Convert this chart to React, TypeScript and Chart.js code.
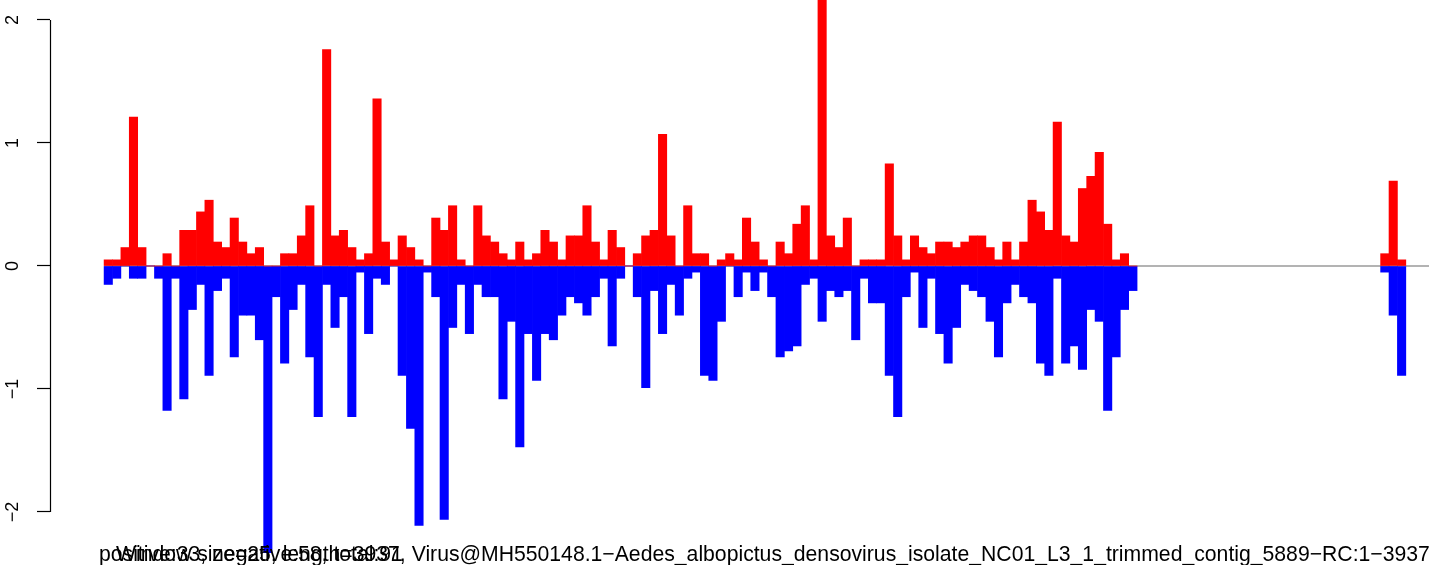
import React, { useEffect, useRef } from "react";
import { Chart, registerables } from "chart.js";

Chart.register(...registerables);

// ---- data ----
const WINDOW_SIZE = 25; // bp per window
const X_MIN_BP = -161;
const X_MAX_BP = 3944;
const Y_MIN = -2.431;
const Y_MAX = 2.1626;
const Y_TICKS = [-2, -1, 0, 1, 2];

// windows 0..122 (first covered block)
const POS_MAIN = [
  0.05, 0.05, 0.15, 1.21, 0.15, 0, 0, 0.1, 0, 0.29,
  0.29, 0.44, 0.535, 0.195, 0.15, 0.39, 0.195, 0.1, 0.15, 0,
  0, 0.1, 0.1, 0.245, 0.49, 0, 1.76, 0.245, 0.29, 0.15,
  0.05, 0.1, 1.36, 0.195, 0.05, 0.245, 0.15, 0.05, 0, 0.39,
  0.29, 0.49, 0.05, 0, 0.49, 0.245, 0.195, 0.1, 0.05, 0.195,
  0.05, 0.1, 0.29, 0.195, 0.05, 0.245, 0.245, 0.49, 0.195, 0.05,
  0.29, 0.15, 0, 0.1, 0.245, 0.29, 1.07, 0.245, 0, 0.49,
  0.1, 0.1, 0, 0.05, 0.1, 0.05, 0.39, 0.195, 0.05, 0,
  0.195, 0.1, 0.34, 0.49, 0.05, 2.3, 0.245, 0.15, 0.39, 0,
  0.05, 0.05, 0.05, 0.83, 0.245, 0.05, 0.245, 0.15, 0.1, 0.195,
  0.195, 0.15, 0.195, 0.245, 0.245, 0.15, 0.05, 0.195, 0.05, 0.195,
  0.535, 0.44, 0.29, 1.17, 0.245, 0.195, 0.63, 0.73, 0.925, 0.34,
  0.05, 0.1, 0,
];
const NEG_MAIN = [
  -0.15, -0.1, 0, -0.1, -0.1, 0, -0.1, -1.175, -0.1, -1.08,
  -0.354, -0.15, -0.89, -0.2, -0.1, -0.74, -0.4, -0.4, -0.6, -2.33,
  -0.25, -0.79, -0.354, -0.15, -0.74, -1.225, -0.15, -0.5, -0.25, -1.225,
  -0.05, -0.55, -0.1, -0.15, 0, -0.89, -1.32, -2.11, -0.05, -0.25,
  -2.06, -0.5, -0.15, -0.55, -0.15, -0.25, -0.25, -1.08, -0.45, -1.47,
  -0.55, -0.93, -0.55, -0.6, -0.4, -0.25, -0.3, -0.4, -0.25, -0.1,
  -0.65, -0.1, 0, -0.25, -0.99, -0.2, -0.55, -0.15, -0.4, -0.1,
  -0.05, -0.89, -0.93, -0.45, 0, -0.25, -0.05, -0.2, -0.05, -0.25,
  -0.74, -0.69, -0.65, -0.15, -0.1, -0.45, -0.2, -0.25, -0.2, -0.6,
  -0.1, -0.3, -0.3, -0.89, -1.225, -0.25, -0.05, -0.5, -0.1, -0.55,
  -0.79, -0.5, -0.15, -0.2, -0.25, -0.45, -0.74, -0.3, -0.15, -0.25,
  -0.3, -0.79, -0.89, -0.1, -0.79, -0.65, -0.84, -0.354, -0.45, -1.175,
  -0.74, -0.354, -0.2,
];
// second covered block, starting at window 152
const TAIL_START_WINDOW = 152;
const POS_TAIL = [0.1, 0.69, 0.05];
const NEG_TAIL = [-0.05, -0.4, -0.89];

const SUMMARY_TEXT = "positive:33, negative:58, total:91";
const INFO_TEXT =
  "Window size=25, length=3937, Virus@MH550148.1\u2212Aedes_albopictus_densovirus_isolate_NC01_L3_1_trimmed_contig_5889\u2212RC:1\u22123937";

function buildSeries(main: number[], tail: number[]) {
  const n = TAIL_START_WINDOW + tail.length;
  const out: { x: number; y: number | null }[] = [];
  for (let i = 0; i < n; i++) {
    let y: number | null = null;
    if (i < main.length) y = main[i];
    else if (i >= TAIL_START_WINDOW) y = tail[i - TAIL_START_WINDOW];
    out.push({ x: i * WINDOW_SIZE + WINDOW_SIZE / 2, y });
  }
  return out;
}

const FONT = '"Liberation Sans", Arial, Helvetica, sans-serif';

const decorPlugin = {
  id: "decor",
  beforeDatasetsDraw(chart: any) {
    const { ctx, chartArea, scales } = chart;
    const y0 = scales.y.getPixelForValue(0);
    const xStart = scales.x.getPixelForValue(0);
    ctx.save();
    ctx.strokeStyle = "#9a9a9a";
    ctx.lineWidth = 1.5;
    ctx.beginPath();
    ctx.moveTo(xStart, y0);
    ctx.lineTo(chartArea.right, y0);
    ctx.stroke();
    ctx.restore();
  },
  afterDraw(chart: any) {
    const { ctx, chartArea, scales } = chart;
    const yTop = scales.y.getPixelForValue(Y_TICKS[Y_TICKS.length - 1]);
    const yBot = scales.y.getPixelForValue(Y_TICKS[0]);
    ctx.save();
    ctx.strokeStyle = "#000";
    ctx.lineWidth = 1.2;
    ctx.beginPath();
    ctx.moveTo(chartArea.left + 0.5, yTop);
    ctx.lineTo(chartArea.left + 0.5, yBot);
    ctx.stroke();
    ctx.fillStyle = "#000";
    ctx.font = `21.2px ${FONT}`;
    ctx.textBaseline = "alphabetic";
    ctx.textAlign = "left";
    ctx.fillText(SUMMARY_TEXT, 99, 561);
    ctx.fillText(INFO_TEXT, 116, 561);
    ctx.restore();
  },
};

export default function App() {
  const ref = useRef<HTMLCanvasElement | null>(null);
  useEffect(() => {
    if (!ref.current) return;
    const chart = new Chart(ref.current, {
      type: "bar",
      data: {
        datasets: [
          {
            data: buildSeries(POS_MAIN, POS_TAIL) as any,
            backgroundColor: "#ff0000",
            borderWidth: 0,
            grouped: false,
            barPercentage: 1,
            categoryPercentage: 1,
          } as any,
          {
            data: buildSeries(NEG_MAIN, NEG_TAIL) as any,
            backgroundColor: "#0000ff",
            borderWidth: 0,
            grouped: false,
            barPercentage: 1,
            categoryPercentage: 1,
          } as any,
        ],
      },
      options: {
        animation: false,
        responsive: false,
        devicePixelRatio: 1,
        layout: { padding: 0 },
        plugins: { legend: { display: false }, tooltip: { enabled: false } },
        scales: {
          x: {
            type: "linear",
            display: false,
            min: X_MIN_BP,
            max: X_MAX_BP,
            offset: false,
            ticks: { stepSize: 500 },
          },
          y: {
            type: "linear",
            position: "left",
            min: Y_MIN,
            max: Y_MAX,
            border: { display: false },
            grid: {
              drawOnChartArea: false,
              drawTicks: true,
              tickLength: 13,
              tickColor: "#000",
              tickWidth: 1.2,
            },
            ticks: {
              stepSize: 1,
              includeBounds: false,
              autoSkip: false,
              minRotation: 90,
              maxRotation: 90,
              crossAlign: "center",
              padding: 14,
              color: "#000",
              font: { family: FONT, size: 18 },
              callback: (v: any) =>
                Y_TICKS.includes(Number(v))
                  ? Number(v) < 0
                    ? "\u2212" + Math.abs(Number(v))
                    : String(v)
                  : "",
            },
            afterFit: (s: any) => {
              s.width = 50;
              s.paddingTop = 0;
              s.paddingBottom = 0;
              s.paddingLeft = 0;
              s.paddingRight = 0;
            },
          } as any,
        },
      } as any,
      plugins: [decorPlugin],
    });
    return () => chart.destroy();
  }, []);
  return (
    <div style={{ position: "absolute", left: 0, top: 0, width: 1429, height: 565, background: "#fff" }}>
      <canvas ref={ref} width={1429} height={565} style={{ display: "block" }} />
    </div>
  );
}
